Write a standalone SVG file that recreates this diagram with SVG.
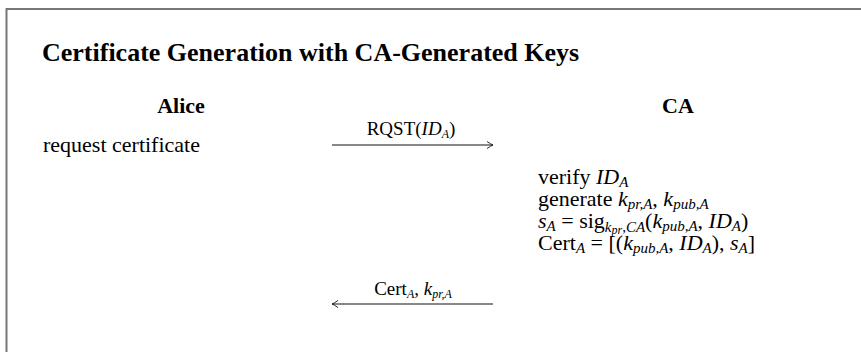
<svg xmlns="http://www.w3.org/2000/svg" width="861" height="352" viewBox="0 0 861 352">
<style>
text{font-family:"Liberation Serif","Times New Roman",serif;fill:#000}
.t{font-size:26px;font-weight:bold}
.h{font-size:22px;font-weight:bold}
.b{font-size:22px}
.l{font-size:19px}
.i{font-style:italic}
.s{font-size:15px}
.ss{font-size:12px}
.ar{stroke:#111;stroke-width:1;fill:none}
</style>
<defs>
<marker id="ah" viewBox="-8 -5 10 10" refX="0" refY="0" markerWidth="10" markerHeight="10" markerUnits="userSpaceOnUse" orient="auto">
<path d="M-6,-3.5 Q-2,-0.8 0,0 Q-2,0.8 -6,3.5" stroke="#111" stroke-width="0.9" fill="none"/>
</marker>
</defs>
<rect x="6.5" y="9" width="900" height="400" fill="none" stroke="#777" stroke-width="2"/>
<text class="t" x="42" y="61">Certificate Generation with CA-Generated Keys</text>
<g id="alice">
<text class="h" x="181" y="113" text-anchor="middle">Alice</text>
<text class="b" x="43" y="152">request certificate</text>
</g>
<g id="ca">
<text class="h" x="678" y="113" text-anchor="middle">CA</text>
<text class="b" x="538" y="184">verify <tspan class="i">ID</tspan><tspan class="i s" dy="3">A</tspan></text>
<text class="b" x="538" y="206">generate <tspan class="i">k</tspan><tspan class="i s" dy="3">pr,A</tspan><tspan dy="-3">, </tspan><tspan class="i">k</tspan><tspan class="i s" dy="3">pub,A</tspan></text>
<text class="b" x="538" y="228"><tspan class="i">s</tspan><tspan class="i s" dy="3">A</tspan><tspan dy="-3"> = sig</tspan><tspan class="i s" dy="4">k</tspan><tspan class="i ss" dy="2">pr</tspan><tspan class="i s" dy="-2">,CA</tspan><tspan dy="-4">(</tspan><tspan class="i">k</tspan><tspan class="i s" dy="3">pub,A</tspan><tspan dy="-3">, </tspan><tspan class="i">ID</tspan><tspan class="i s" dy="3">A</tspan><tspan dy="-3">)</tspan></text>
<text class="b" x="538" y="250">Cert<tspan class="i s" dy="3">A</tspan><tspan dy="-3"> = [(</tspan><tspan class="i">k</tspan><tspan class="i s" dy="3">pub,A</tspan><tspan dy="-3">, </tspan><tspan class="i">ID</tspan><tspan class="i s" dy="3">A</tspan><tspan dy="-3">), </tspan><tspan class="i">s</tspan><tspan class="i s" dy="3">A</tspan><tspan dy="-3">]</tspan></text>
</g>
<g id="connectors">
<g id="msg1">
<line class="ar" x1="332" y1="145" x2="493" y2="145" marker-end="url(#ah)"/>
<text class="l" x="411" y="135" text-anchor="middle">RQST(<tspan class="i">ID</tspan><tspan class="i ss" dy="3">A</tspan><tspan dy="-3">)</tspan></text>
</g>
<g id="msg2">
<line class="ar" x1="493" y1="304" x2="332" y2="304" marker-end="url(#ah)"/>
<text class="l" x="413" y="295" text-anchor="middle">Cert<tspan class="i ss" dy="3">A</tspan><tspan dy="-3">, </tspan><tspan class="i">k</tspan><tspan class="i ss" dy="3">pr,A</tspan></text>
</g>
</g>
</svg>
